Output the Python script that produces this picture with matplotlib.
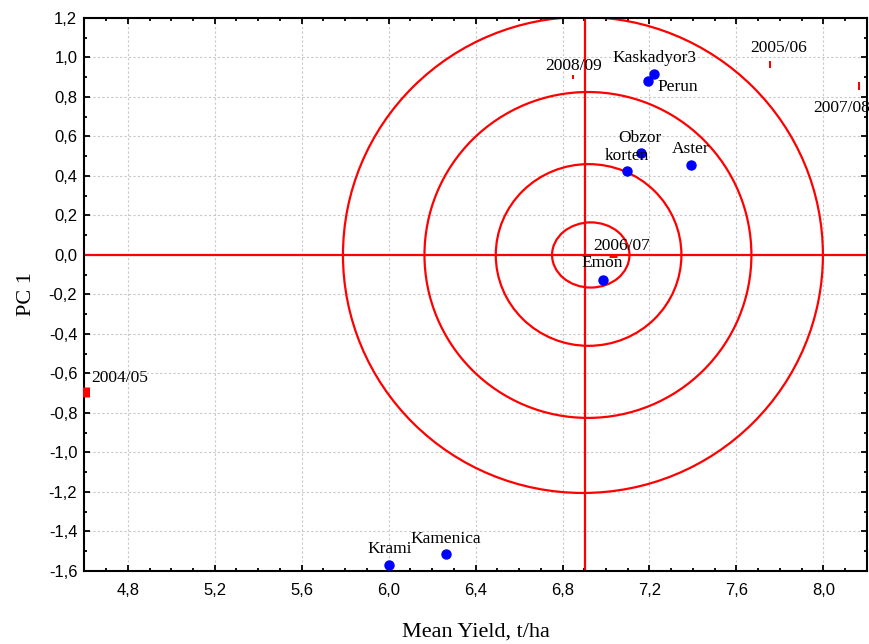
import matplotlib.pyplot as plt
from matplotlib.patches import Ellipse
from matplotlib.ticker import MultipleLocator

# cultivars (blue dots)
sorta = ["Kaskadyor3", "Perun", "Obzor", "korten", "Aster", "Emon", "Krami", "Kamenica"]
sorta_x = [7.222, 7.191, 7.162, 7.096, 7.389, 6.984, 6.004, 6.265]
sorta_y = [0.916, 0.881, 0.518, 0.424, 0.457, -0.128, -1.568, -1.512]

# seasons (red marks)
godini = ["2008/09", "2005/06", "2007/08", "2004/05", "2006/07"]
godini_x = [6.850, 7.756, 8.165, 4.609, 7.033]
godini_y = [0.901, 0.967, 0.856, -0.694, -0.003]

# concentric rings around the mean
krug_cx = [6.930, 6.920, 6.917, 6.894]
centar_y = 0.0
krug_rx = [0.178, 0.427, 0.752, 1.104]
krug_ry = [0.165, 0.460, 0.825, 1.205]
linija_x = 6.903

x_ticks = [4.8, 5.2, 5.6, 6.0, 6.4, 6.8, 7.2, 7.6, 8.0]
x_tick_labels = ["4,8", "5,2", "5,6", "6,0", "6,4", "6,8", "7,2", "7,6", "8,0"]
y_ticks = [1.2, 1.0, 0.8, 0.6, 0.4, 0.2, 0.0, -0.2, -0.4, -0.6, -0.8, -1.0, -1.2, -1.4, -1.6]
y_tick_labels = ["1,2", "1,0", "0,8", "0,6", "0,4", "0,2", "0,0", "-0,2", "-0,4", "-0,6",
                 "-0,8", "-1,0", "-1,2", "-1,4", "-1,6"]

serif = "Liberation Serif"
sans = "Liberation Sans"

fig = plt.figure(figsize=(8.69, 6.44), dpi=100)
ax = fig.add_axes([0.0970, 0.1134, 0.9005, 0.8587])
ax.set_xlim(4.6, 8.2)
ax.set_ylim(-1.6, 1.2)

ax.grid(True, which="major", color="#c8c8c8", linestyle=(0, (2, 2)), linewidth=0.8)
ax.set_axisbelow(True)

ax.axvline(linija_x, color="#ff0000", lw=1.6, zorder=2)
ax.axhline(centar_y, color="#ff0000", lw=1.6, zorder=2)
for cx, rx, ry in zip(krug_cx, krug_rx, krug_ry):
    ax.add_patch(Ellipse((cx, centar_y), 2 * rx, 2 * ry, fill=False,
                         edgecolor="#ff0000", lw=1.6, zorder=2))

ax.plot(sorta_x, sorta_y, "o", color="#0000ff", ms=6.5, mec="#0000ff", zorder=4, clip_on=False)

# pomeranja etiketa u pikselima (dx, dy nagore)
pomeraj_sorta = [(0, 16), (30, -6.5), (-1, 15), (0, 15), (0, 16), (0, 17), (0, 16), (0, 15)]
for ime, x, y, (dx, dy) in zip(sorta, sorta_x, sorta_y, pomeraj_sorta):
    ax.annotate(ime, (x, y), xytext=(dx * 0.72, dy * 0.72), textcoords="offset points",
                ha="center", va="center", fontsize=12.5, family=serif, zorder=5)

# oblik crvenih oznaka: (marker, duzina px, debljina px)
oznake = [("|", 4, 2), ("|", 7, 2), ("|", 8, 2), ("|", 10, 7), ("_", 8, 3)]
pomeraj_godina = [(0, 11), (8, 16), (-18, -22), (33, 14), (8.5, 9.5)]
for ime, x, y, (m, d, w), (dx, dy) in zip(godini, godini_x, godini_y, oznake, pomeraj_godina):
    ax.plot([x], [y], m, color="#ff0000", ms=d * 0.72, mew=w * 0.72, zorder=3, clip_on=False)
    ax.annotate(ime, (x, y), xytext=(dx * 0.72, dy * 0.72), textcoords="offset points",
                ha="center", va="center", fontsize=12.5, family=serif, zorder=5)

ax.set_xticks(x_ticks)
ax.set_xticklabels(x_tick_labels, family=sans, fontsize=12)
ax.set_yticks(y_ticks)
ax.set_yticklabels(y_tick_labels, family=sans, fontsize=12)
ax.xaxis.set_minor_locator(MultipleLocator(0.1))
ax.yaxis.set_minor_locator(MultipleLocator(0.1))
ax.tick_params(which="both", direction="in", top=True, right=True, width=1.3, color="black")
ax.tick_params(which="major", length=4)
ax.tick_params(which="minor", length=2.5)
ax.tick_params(axis="x", which="major", pad=9)
ax.tick_params(axis="y", which="major", pad=5)
for s in ax.spines.values():
    s.set_linewidth(1.5)

ax.set_xlabel("Mean Yield, t/ha", family=serif, fontsize=16, labelpad=17)
ax.set_ylabel("PC 1", family=serif, fontsize=16, labelpad=9)

fig.savefig("out.png", dpi=100)
plt.close()
